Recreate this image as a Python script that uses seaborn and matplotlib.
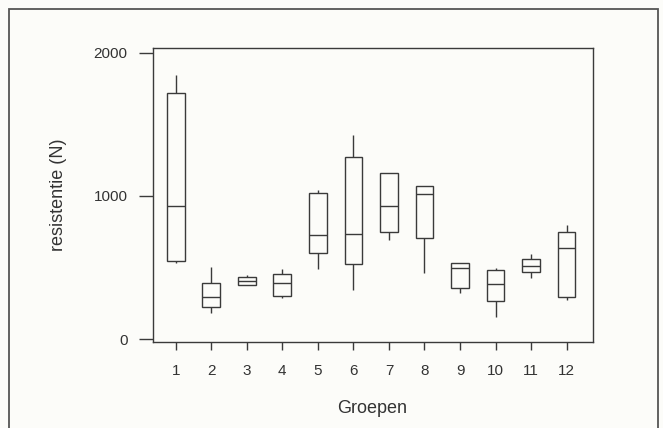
import numpy as np
import pandas as pd
import matplotlib
matplotlib.use("Agg")
import matplotlib.pyplot as plt
import seaborn as sns
from matplotlib.patches import Rectangle

# Five-number summaries (N)
groups = ["1", "2", "3", "4", "5", "6", "7", "8", "9", "10", "11", "12"]
minimum = [531, 180, 378, 284, 487, 343, 692, 459, 319, 156, 424, 273]
q1 = [545, 226, 378, 303, 604, 522, 748, 709, 354, 268, 466, 292]
median = [930, 296, 408, 394, 727, 732, 930, 1014, 497, 385, 513, 634]
q3 = [1722, 394, 431, 452, 1023, 1275, 1163, 1072, 534, 483, 557, 750]
maximum = [1846, 506, 448, 487, 1042, 1427, 1163, 1072, 534, 494, 594, 797]
yticks = [0, 1000, 2000]

rows = []
for i, g in enumerate(groups):
    for v in (minimum[i], q1[i], median[i], q3[i], maximum[i]):
        rows.append({"Groepen": g, "resistentie (N)": v})
df = pd.DataFrame(rows)

sns.set_theme(style="white")
plt.rcParams["font.family"] = ["Liberation Sans", "DejaVu Sans"]

bg = "#fcfcf9"
ink = "#3a3a3a"
fig = plt.figure(figsize=(6.63, 4.28), dpi=100, facecolor=bg)
ax = fig.add_axes([0.2303, 0.2009, 0.8937 - 0.2303, 0.8886 - 0.2009])
ax.set_facecolor(bg)

sns.boxplot(data=df, x="Groepen", y="resistentie (N)", order=groups, ax=ax,
            color="white", linecolor=ink, linewidth=1.0, width=0.5,
            whis=(0, 100), showcaps=False, fliersize=0,
            boxprops=dict(facecolor=bg))

ax.set_xlim(-0.65, 11.73)
ax.set_ylim(-21, 2037)
ax.set_yticks(yticks)
ax.set_yticklabels([str(t) for t in yticks])

for s in ax.spines.values():
    s.set_visible(True)
    s.set_color(ink)
    s.set_linewidth(1.0)

ax.tick_params(axis="y", direction="out", length=10, width=1.0, color=ink,
               pad=8, labelsize=11, labelcolor="#333333", left=True)
ax.tick_params(axis="x", direction="out", length=6, width=1.0, color=ink,
               pad=10, labelsize=11, labelcolor="#333333", bottom=True)
ax.set_xlabel("Groepen", fontsize=13, color="#333333", labelpad=16)
ax.set_ylabel("resistentie (N)", fontsize=13, color="#333333", labelpad=19)

# outer frame of the scanned figure
fig.patches.append(Rectangle((9.3 / 663, -0.2), (658 - 9.3) / 663, 1.2 - 9.3 / 428,
                             transform=fig.transFigure, fill=False,
                             edgecolor="#555555", linewidth=1.3))

fig.savefig("out.png", dpi=100, facecolor=bg)
